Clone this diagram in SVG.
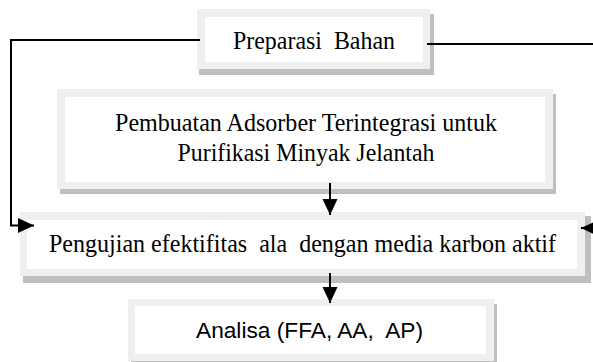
<svg xmlns="http://www.w3.org/2000/svg" width="593" height="362" viewBox="0 0 593 362">
<style>
.shadow{fill:#bfbfbf}
.frame{fill:#efefef}
.inner{fill:#ffffff}
.serif{font-family:"Liberation Serif","Times New Roman",serif;fill:#000;text-anchor:middle}
.sans{font-family:"Liberation Sans",Arial,sans-serif;fill:#000;text-anchor:middle}
.conn{fill:none;stroke:#000;stroke-width:2}
</style>
<defs>
<marker id="arr" markerUnits="userSpaceOnUse" markerWidth="17" markerHeight="16" refX="16" refY="7.5" orient="auto" overflow="visible">
<path d="M0,0 L16,7.5 L0,15 z" fill="#000"/>
</marker>
</defs>
<rect width="593" height="362" fill="#fff"/>
<g id="node-preparasi">
<rect class="shadow" x="199" y="14" width="235" height="61"/>
<rect class="frame" x="197" y="9" width="233" height="60"/>
<rect class="inner" x="205" y="17" width="218" height="45"/>
<text class="serif" x="314" y="49" font-size="25.5" textLength="162" lengthAdjust="spacingAndGlyphs" xml:space="preserve">Preparasi  Bahan</text>
</g>
<g id="node-pembuatan">
<rect class="shadow" x="60" y="94" width="496" height="100"/>
<rect class="frame" x="57" y="89" width="496" height="100"/>
<rect class="inner" x="65" y="97" width="480" height="85"/>
<text class="serif" x="306" y="131" font-size="25.5" textLength="382" lengthAdjust="spacingAndGlyphs">Pembuatan Adsorber Terintegrasi untuk</text>
<text class="serif" x="306" y="161" font-size="25.5" textLength="257" lengthAdjust="spacingAndGlyphs">Purifikasi Minyak Jelantah</text>
</g>
<g id="node-pengujian">
<rect class="shadow" x="23" y="216" width="568" height="67"/>
<rect class="frame" x="20" y="212" width="565" height="64"/>
<rect class="inner" x="27" y="220" width="550" height="49"/>
<text class="serif" x="302.5" y="252" font-size="25.5" textLength="507" lengthAdjust="spacingAndGlyphs" xml:space="preserve">Pengujian efektifitas  ala  dengan media karbon aktif</text>
</g>
<g id="node-analisa">
<rect class="shadow" x="131" y="304" width="366" height="62"/>
<rect class="frame" x="128" y="299" width="366" height="62"/>
<rect class="inner" x="135" y="306" width="351" height="48"/>
<text class="sans" x="309.5" y="338" font-size="22" textLength="227" lengthAdjust="spacingAndGlyphs" xml:space="preserve">Analisa (FFA, AA,  AP)</text>
</g>
<g id="connectors">
<path class="conn" d="M200,40 H11 V225.5 H34" marker-end="url(#arr)"/>
<path class="conn" d="M427,44 H600 V228 H581" marker-end="url(#arr)"/>
<path class="conn" d="M330,183 V215" marker-end="url(#arr)"/>
<path class="conn" d="M330,273 V303" marker-end="url(#arr)"/>
</g>
</svg>
